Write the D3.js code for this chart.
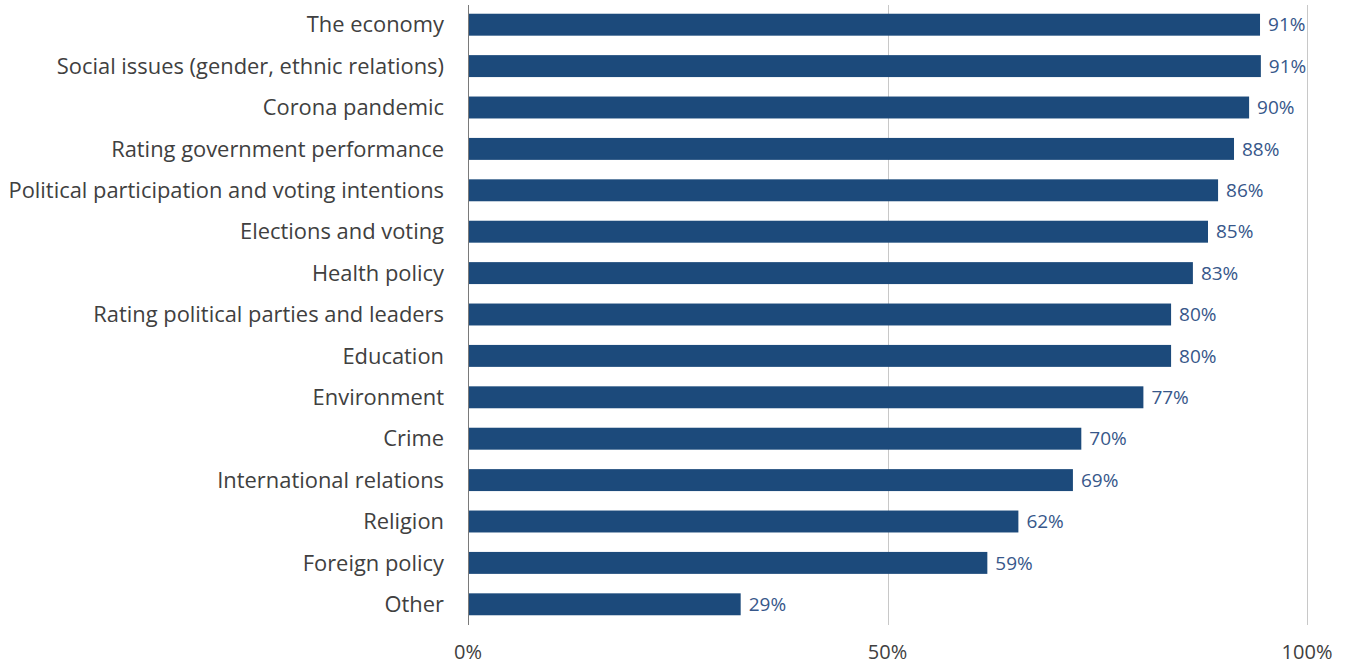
<!DOCTYPE html>
<html><head><meta charset="utf-8">
<script src="https://cdn.jsdelivr.net/npm/d3@7"></script>
<style>
body{margin:0;background:#fff;}
text{font-family:"Open Sans",sans-serif;}
</style></head><body>
<svg id="chart" width="1348" height="666"></svg>
<script>
const categories = ["The economy","Social issues (gender, ethnic relations)","Corona pandemic","Rating government performance","Political participation and voting intentions","Elections and voting","Health policy","Rating political parties and leaders","Education","Environment","Crime","International relations","Religion","Foreign policy","Other"];
// bar lengths as measured in the picture (percent of axis)
const barValues = [94.4,94.5,93.1,91.3,89.4,88.2,86.4,83.8,83.8,80.5,73.1,72.1,65.6,61.9,32.5];
// value labels as printed
const valueLabels = ["91%","91%","90%","88%","86%","85%","83%","80%","80%","77%","70%","69%","62%","59%","29%"];
const tickValues = [0,50,100];
const tickLabels = ["0%","50%","100%"];

const svg = d3.select("#chart");
const x = d3.scaleLinear().domain([0,100]).range([468,1307]);
const y = d3.scaleBand().domain(categories).range([4,625]).paddingInner(0.47).paddingOuter(0.235);

// gridlines
svg.append("g").selectAll("line").data(tickValues).join("line")
  .attr("x1",d=>Math.round(x(d))+0.5).attr("x2",d=>Math.round(x(d))+0.5)
  .attr("y1",5).attr("y2",625)
  .attr("stroke",d=>d===0?"#7a7a7a":"#c8c8c8").attr("stroke-width",1);

// bars
svg.append("g").selectAll("rect").data(categories).join("rect")
  .attr("x",x(0)+1).attr("y",d=>y(d))
  .attr("width",(d,i)=>x(barValues[i])-x(0)-1)
  .attr("height",y.bandwidth())
  .attr("fill","#1c4a7b");

// value labels
svg.append("g").selectAll("text").data(categories).join("text")
  .attr("x",(d,i)=>x(barValues[i])+8).attr("y",d=>y(d)+y.bandwidth()/2)
  .attr("dy","0.35em").attr("font-size",19).attr("fill","#37578a")
  .text((d,i)=>valueLabels[i]);

// category labels
svg.append("g").selectAll("text").data(categories).join("text")
  .attr("x",444).attr("y",d=>y(d)+y.bandwidth()/2)
  .attr("dy","0.35em").attr("text-anchor","end").attr("font-size",21.9).attr("fill","#404040")
  .text(d=>d);

// x tick labels
svg.append("g").selectAll("text").data(tickValues).join("text")
  .attr("x",d=>x(d)).attr("y",659)
  .attr("text-anchor","middle").attr("font-size",20).attr("fill","#404040")
  .text((d,i)=>tickLabels[i]);
</script>
</body></html>
